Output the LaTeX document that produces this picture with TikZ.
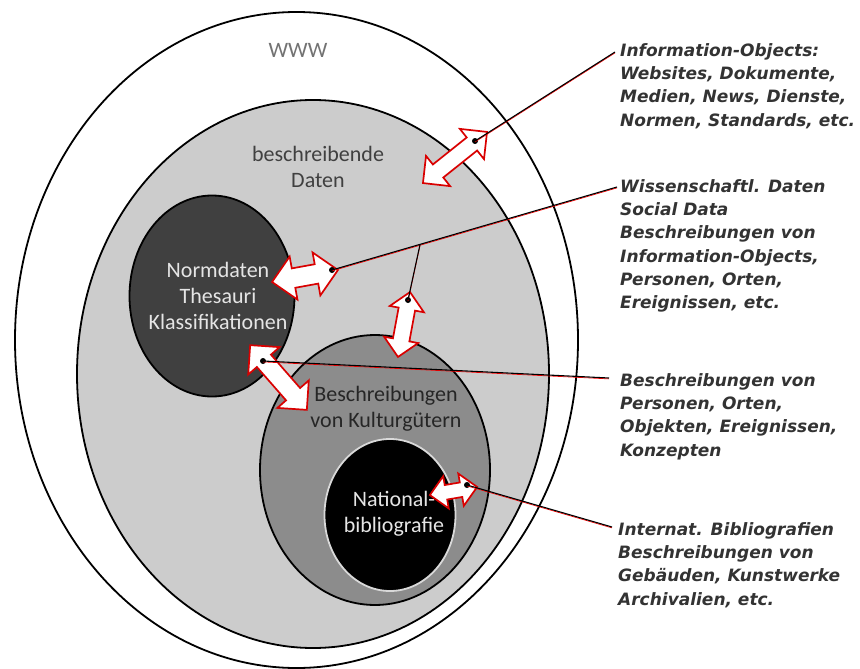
\documentclass[tikz,border=0pt]{standalone}
\usepackage{fontspec}
\setmainfont{Carlito}
\newfontfamily\notefont{DejaVu Sans}
\usetikzlibrary{shapes, arrows, positioning, calc}

\tikzset{
	area/.style={ellipse, draw=black, line width=1.8pt, inner sep=0pt},
	dblarrow/.style={double arrow, draw=red!85!black, fill=white, line width=1.7pt, inner xsep=0pt, double arrow tip angle=90},
	dot/.style={circle, fill=black, inner sep=0pt, minimum size=6pt},
	leader/.style={draw=black, line width=1.1pt, preaction={draw=red, line width=0.7pt, transform canvas={yshift=-0.9pt}}},
	note/.style={anchor=north west, align=left, inner sep=0pt, text=black!80, font=\notefont\bfseries\itshape\fontsize{17}{23.3}\selectfont},
	label/.style={align=center, inner sep=0pt, font=\fontsize{22}{26}\selectfont}
}

\begin{document}
\begin{tikzpicture}[x=1pt, y=-1pt]
		\useasboundingbox (0,0) rectangle (860,669);

		\coordinate (www)     at (296.5, 340);
		\coordinate (daten)   at (313, 374);
		\coordinate (norm)    at (212, 296);
		\coordinate (kultur)  at (375, 470);
		\coordinate (nat)     at (390, 515);
		\coordinate (infoEnd) at (615, 52);
		\coordinate (wissEnd) at (617, 187);
		\coordinate (beschEnd) at (609, 378);
		\coordinate (interEnd) at (612, 527);

		% Kreise
		\node[area, fill=white, minimum width=563pt, minimum height=656pt] (WWW) at (www) {};
		\node[area, fill=black!20, minimum width=472pt, minimum height=548pt] (DAT) at (daten) {};
		\node[area, fill=black!75, minimum width=165pt, minimum height=201pt] (NORM) at (norm) {};
		\node[area, fill=black!45, minimum width=230pt, minimum height=270pt] (KUL) at (kultur) {};
		\node[area, fill=black, draw=white!85!black, minimum width=131pt, minimum height=152pt] (NAT) at (nat) {};

		\node[label, text=black!55] (WWWT) at (298, 50) {WWW};
		\node[label, text=black!75] (DATT) at (318, 167) {beschreibende\\Daten};
		\node[label, text=white!90!black] (NORMT) at (218, 296) {Normdaten\\Thesauri\\Klassifikationen};
		\node[label, text=black!85] (KULT) at (386, 409) {Beschreibungen\\von Kulturgütern};
		\node[label, text=white!90!black] (NATT) at (394, 514) {National-\\bibliografie};

		% Pfeile
		\node[dblarrow, minimum height=82pt, inner ysep=7.5pt, double arrow head extend=11pt, rotate=38.6] (ARA) at (455, 157.5) {};
		\node[dblarrow, minimum height=67pt, inner ysep=9pt, double arrow head extend=12pt, rotate=10.3] (ARB) at (305, 276) {};
		\node[dblarrow, minimum height=66pt, inner ysep=7.5pt, double arrow head extend=9pt, rotate=79.5] (ARC) at (404, 324.5) {};
		\node[dblarrow, minimum height=86pt, inner ysep=8.5pt, double arrow head extend=11.5pt, rotate=-48.8] (ARD) at (278.5, 377.5) {};
		\node[dblarrow, minimum height=48pt, inner ysep=6.5pt, double arrow head extend=9pt, rotate=9.7] (ARE) at (453.5, 491) {};

		\node[dot] (DOTA) at (475, 141) {};
		\node[dot] (DOTB) at (332, 270) {};
		\node[dot] (DOTC) at (408, 300) {};
		\node[dot] (DOTD) at (263, 361) {};
		\node[dot] (DOTE) at (467, 485) {};

		% Texte rechts
		\node[note] (INFO) at ($(infoEnd)+(5,-9)$) {Information-Objects:\\Websites, Dokumente,\\Medien, News, Dienste,\\Normen, Standards, etc.};
		\node[note] (WISS) at ($(wissEnd)+(3,-8)$) {Wissenschaftl. Daten\\Social Data\\Beschreibungen von\\Information-Objects,\\Personen, Orten,\\Ereignissen, etc.};
		\node[note] (BESCH) at ($(beschEnd)+(11,-5)$) {Beschreibungen von\\Personen, Orten,\\Objekten, Ereignissen,\\Konzepten};
		\node[note] (INTER) at ($(interEnd)+(6,-5)$) {Internat. Bibliografien\\Beschreibungen von\\Gebäuden, Kunstwerke\\Archivalien, etc.};

		\draw[leader] (DOTA.center) -- (infoEnd);
		\draw[leader] (DOTB.center) -- (wissEnd);
		\draw[leader] (DOTC.center) -- ($(DOTB)!0.309!(wissEnd)$);
		\draw[leader] (DOTD.center) -- (beschEnd);
		\draw[leader] (DOTE.center) -- (interEnd);
	\end{tikzpicture}
\end{document}
